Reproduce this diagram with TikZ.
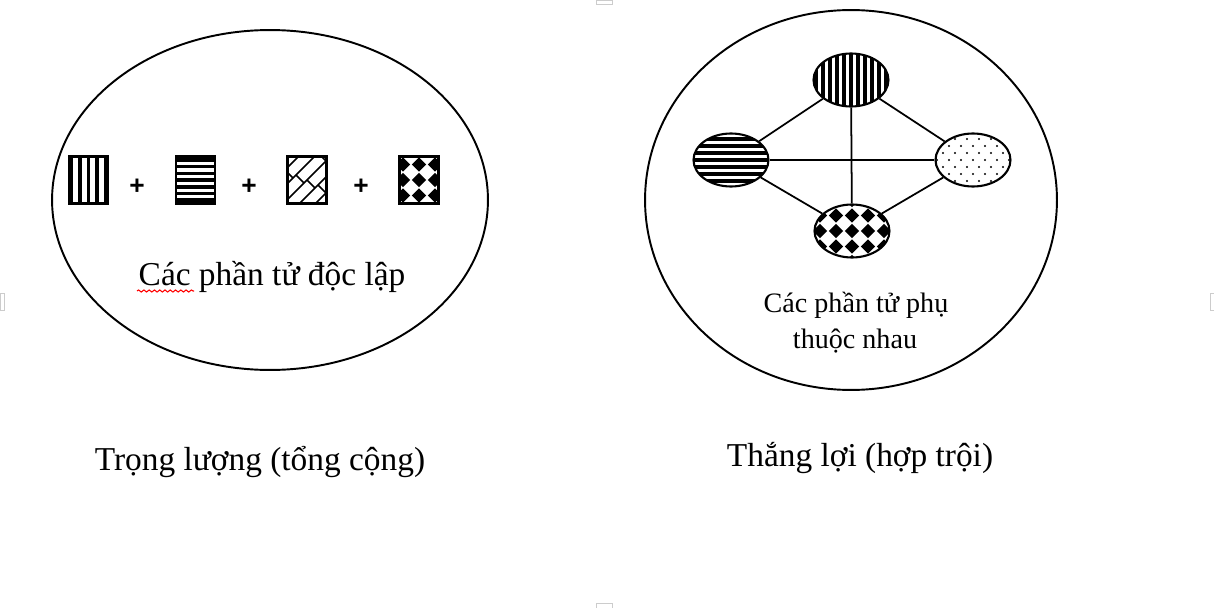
\documentclass[tikz,border=0pt]{standalone}
\usepackage{fontspec}
\setmainfont{Liberation Serif}
\newfontfamily\plusfont{Liberation Sans}
\usetikzlibrary{shapes.geometric,decorations.pathmorphing}

\tikzset{
  frame/.style={ellipse,draw,line width=1.1pt,inner sep=0pt},
  cell/.style={rectangle,draw,line width=1.2pt,inner sep=0pt,minimum width=0.78cm,minimum height=0.94cm},
  part/.style={ellipse,draw,line width=1.2pt,inner sep=0pt,minimum width=1.5cm,minimum height=1.06cm},
  link/.style={line width=1pt},
  plus/.style={font=\plusfont\fontsize{15}{15}\selectfont\bfseries},
  bigtext/.style={anchor=base,inner sep=0pt,font=\fontsize{19}{23}\selectfont},
  smalltext/.style={anchor=base,inner sep=0pt,font=\fontsize{16}{20}\selectfont},
  handle/.style={gray!40,line width=0.4pt},
  % fill patterns
  vbars/.style={path picture={
    \begin{scope}[shift={(path picture bounding box.center)}]
      \foreach \i in {-7,...,7} \fill (\i*#1-1.8,-40) rectangle (\i*#1+1.8,40);
    \end{scope}}},
  hbars/.style={path picture={
    \begin{scope}[shift={(path picture bounding box.center)}]
      \foreach \j in {-3,...,3} \fill (-50,\j*#1-1.8) rectangle (50,\j*#1+1.8);
    \end{scope}}},
  brick/.style={path picture={
    \begin{scope}[shift={(path picture bounding box.center)}]
      \foreach \k in {-4,...,4} {
        \draw[line width=0.9pt] (\k*16-40,40) -- (\k*16+40,-40);
        \foreach \m in {-3,...,3}
          \draw[line width=0.9pt] (\m*22+\k*11,\k*16-\m*22-\k*11) -- ++(8,8);
      }
    \end{scope}}},
  diamonds/.style={path picture={
    \begin{scope}[shift={(path picture bounding box.center)},shift={#1}]
      \foreach \i in {-3,...,3} \foreach \j in {-3,...,3}
        \fill (\i*16,\j*15.5-7.2) -- ++(7.2,7.2) -- ++(-7.2,7.2) -- ++(-7.2,-7.2) -- cycle;
    \end{scope}}},
  speckle/.style={path picture={
    \begin{scope}[shift={(path picture bounding box.center)}]
      \foreach \i in {-4,...,4} \foreach \j in {-2,...,2} {
        \fill (\i*12,\j*14) circle (1.2);
        \fill (\i*12+6,\j*14+7) circle (1.2);
      }
    \end{scope}}},
}

\begin{document}
\begin{tikzpicture}[x=0.02cm,y=-0.02cm]

    \useasboundingbox (0,0) rectangle (1214,608);

    % page handles
    \draw[handle] (596,0) rectangle (612,4);
    \draw[handle] (596,603) rectangle (612,608);
    \draw[handle] (0,293) rectangle (4,310);
    \draw[handle] (1210,293) rectangle (1214,310);

    %%%%%%%%%%%%%%%%%%%%%%%%%%%%%%%%%%%%%%%%%%%%%%%%%%%%%%

    % independent parts (left)
    \node[frame,minimum width=8.72cm,minimum height=6.8cm] (indep) at (270,200) {};

    \node[cell,vbars=8.5] (sqV) at (88.5,180) {};
    \node[plus] (plusA) at (137,187) {+};
    \node[cell,hbars=6.7] (sqH) at (195.5,180) {};
    \node[plus] (plusB) at (249,187) {+};
    \node[cell,brick] (sqB) at (307,180) {};
    \node[plus] (plusC) at (361,187) {+};
    \node[cell,diamonds={(0,0)}] (sqD) at (419,180) {};

    \node[bigtext] (indeptext) at (272,285) {Các phần tử độc lập};
    \draw[red,line width=0.6pt,decorate,decoration={snake,amplitude=0.6pt,segment length=3pt}] (137,291) -- (194,291);

    % sum caption
    \node[bigtext] (sumtext) at (260,470) {Trọng lượng (tổng cộng)};

    %%%%%%%%%%%%%%%%%%%%%%%%%%%%%%%%%%%%%%%%%%%%%%%%%%%%%%

    % dependent parts (right)
    \node[frame,minimum width=8.24cm,minimum height=7.6cm] (dep) at (851,200) {};

    \node[part,vbars=7] (pTop) at (851,80) {};
    \node[part,hbars=7] (pLeft) at (731,160) {};
    \node[part,speckle] (pRight) at (973,160) {};
    \node[part,diamonds={(2,-6)}] (pBot) at (852,231) {};

    \draw[link] (pTop) -- (pLeft);
    \draw[link] (pTop) -- (pRight);
    \draw[link] (pTop) -- (pBot);
    \draw[link] (pLeft) -- (pRight);
    \draw[link] (pLeft) -- (pBot);
    \draw[link] (pRight) -- (pBot);

    \node[smalltext] (deptextA) at (856,312) {Các phần tử phụ};
    \node[smalltext] (deptextB) at (855,348) {thuộc nhau};

    % dominance caption
    \node[bigtext] (wintext) at (860,466) {Thắng lợi (hợp trội)};

\end{tikzpicture}
\end{document}
